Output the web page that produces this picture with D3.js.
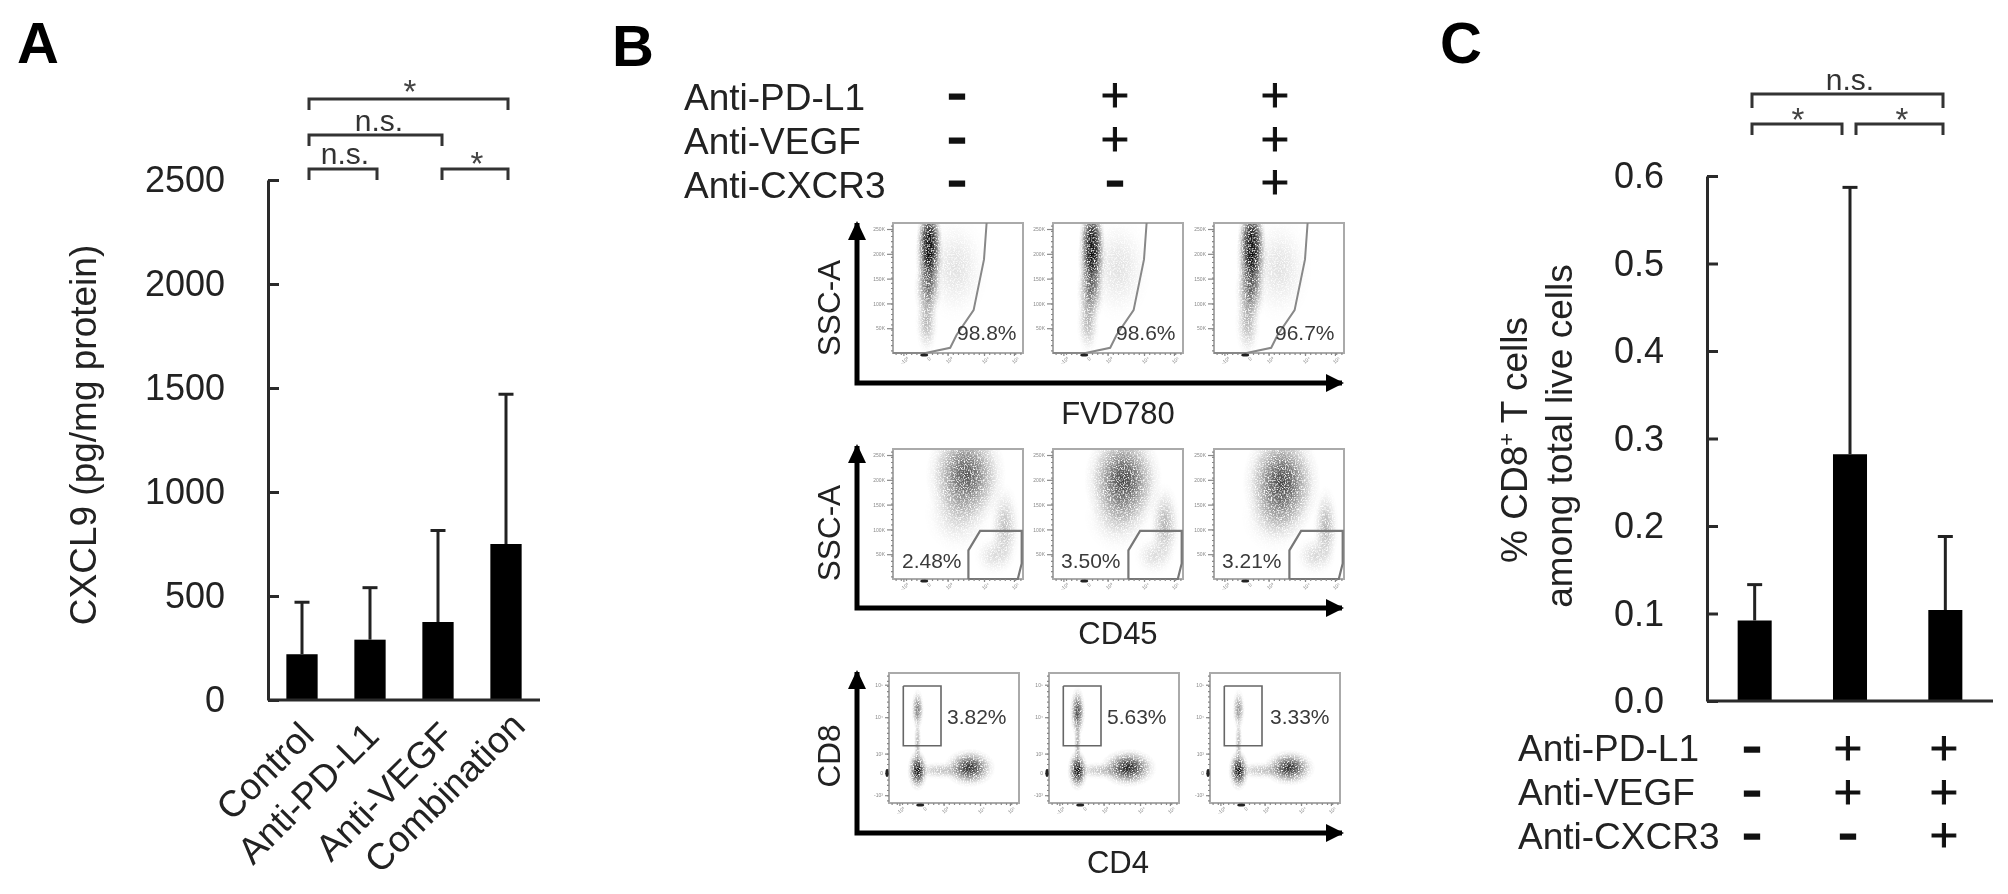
<!DOCTYPE html>
<html>
<head>
<meta charset="utf-8">
<script src="https://cdn.jsdelivr.net/npm/d3@7"></script>
<style>
  body { margin: 0; background: #fff; }
  svg { display: block; filter: blur(0.6px); }
  text { font-family: "Liberation Sans", Arial, sans-serif; fill: #222; }
</style>
</head>
<body>
<div id="chart"></div>
<script>
// panel A
const groupsA = ["Control", "Anti-PD-L1", "Anti-VEGF", "Combination"];
const valuesA = [220, 290, 375, 750];
const errorTopsA = [470, 540, 815, 1470];
const ticksA = [0, 500, 1000, 1500, 2000, 2500];

// panel C
const groupsC = ["none", "PD-L1+VEGF", "PD-L1+VEGF+CXCR3"];
const valuesC = [0.092, 0.282, 0.104];
const errorTopsC = [0.133, 0.587, 0.188];
const ticksC = [0, 0.1, 0.2, 0.3, 0.4, 0.5, 0.6];

// treatment table, shared by B and C
const treatments = ["Anti-PD-L1", "Anti-VEGF", "Anti-CXCR3"];
const signs = [["–", "+", "+"], ["–", "+", "+"], ["–", "–", "+"]];

// panel B, flow plots. clouds are [x, y, spreadX, spreadY, darkness] in % of each plot axis
const percentsFvd = ["98.8%", "98.6%", "96.7%"];
const percentsCd45 = ["2.48%", "3.50%", "3.21%"];
const percentsCd8 = ["3.82%", "5.63%", "3.33%"];

const cloudsFvd = [
  [[28, 76, 11, 34, 1], [28, 90, 10, 24, .8], [27, 50, 11, 26, .55], [26, 24, 9, 26, .3], [48, 65, 26, 42, .12]],
  [[30, 74, 11, 34, 1], [30, 90, 10, 24, .8], [29, 48, 11, 26, .55], [27, 24, 9, 26, .3], [50, 65, 26, 42, .12]],
  [[29, 74, 12, 36, 1], [29, 90, 11, 24, .8], [28, 48, 12, 26, .55], [26, 24, 10, 28, .3], [50, 65, 26, 42, .12]]
];
const cloudsCd45 = [
  [[56, 80, 31, 42, .68], [50, 50, 26, 30, .16], [86, 40, 12, 34, .25], [78, 18, 16, 16, .14]],
  [[54, 76, 30, 42, .75], [50, 48, 26, 28, .16], [86, 42, 12, 32, .3], [78, 18, 16, 16, .14]],
  [[52, 74, 30, 44, .75], [47, 48, 26, 28, .16], [86, 40, 10, 32, .3], [78, 18, 16, 16, .16]]
];
const cloudsCd8 = [
  [[22, 25, 8, 16, 1], [62, 27, 20, 15, .85], [40, 25, 24, 7, .25], [22, 72, 5, 16, .55], [22, 46, 3, 22, .3]],
  [[22, 25, 8, 16, 1], [61, 27, 22, 15, .9], [40, 25, 24, 7, .25], [22, 70, 6, 20, .75], [22, 46, 3, 22, .35]],
  [[22, 25, 8, 16, 1], [61, 27, 20, 14, .85], [40, 25, 24, 7, .25], [22, 72, 5, 16, .45], [22, 46, 3, 22, .3]]
];

const gateFvd = [[72, 100], [70, 72], [62, 33], [49, 14], [44, 4], [25, 0], [0, 0]];
const gateCd45 = [[58, 0], [58, 22], [67, 37], [99, 37], [99, 12], [96, 0], [58, 0]];
const gateCd8 = [[11, 90], [40, 90], [40, 44], [11, 44], [11, 90]];

const scatterTicks = [50, 100, 150, 200, 250];
const scatterLabels = ["50K", "100K", "150K", "200K", "250K"];
const logTicks = [8, 25, 42, 70, 93];
const logLabels = ["-10³", "0", "10³", "10⁴", "10⁵"];
const logTicksY = [6, 23, 38, 66, 91];

const width = 2008, height = 894;
const svg = d3.select("#chart").append("svg").attr("width", width).attr("height", height);
const defs = svg.append("defs");

// soft round blob, grain filter breaks it into specks like the flow events
const blob = defs.append("radialGradient").attr("id", "blob");
[[0, 1], [.3, .72], [.55, .36], [.8, .08], [1, 0]].forEach(s => {
  blob.append("stop").attr("offset", s[0]).attr("stop-color", "#000").attr("stop-opacity", s[1]);
});
const grain = defs.append("filter").attr("id", "grain")
  .attr("x", "-5%").attr("y", "-5%").attr("width", "110%").attr("height", "110%");
grain.append("feTurbulence").attr("type", "fractalNoise").attr("baseFrequency", 0.7)
  .attr("numOctaves", 2).attr("seed", 4).attr("result", "noise");
grain.append("feColorMatrix").attr("in", "noise").attr("type", "matrix")
  .attr("values", "0 0 0 0 0  0 0 0 0 0  0 0 0 0 0  3.2 0 0 0 -0.75").attr("result", "speck");
grain.append("feComposite").attr("in", "SourceGraphic").attr("in2", "speck").attr("operator", "in");
grain.append("feGaussianBlur").attr("stdDeviation", 0.45);

const label = (x, y, txt, size, opts = {}) => {
  const t = svg.append("text").attr("x", x).attr("y", y).attr("font-size", size).text(txt);
  if (opts.anchor) t.attr("text-anchor", opts.anchor);
  if (opts.weight) t.attr("font-weight", opts.weight);
  if (opts.fill) t.style("fill", opts.fill);
  if (opts.rotate) t.attr("transform", `rotate(${opts.rotate},${x},${y})`);
  return t;
};

const styleAxis = (g) => {
  g.selectAll(".domain").attr("stroke", "#2a2a2a").attr("stroke-width", 3);
  g.selectAll(".tick line").attr("stroke", "#2a2a2a").attr("stroke-width", 3);
  g.selectAll("text").attr("font-size", 36).attr("font-family", null).attr("fill", null);
};

const barChart = (cats, values, tops, ticks, fmt, left, right, top, bottom, inner, outer) => {
  const x = d3.scaleBand().domain(cats).range([left, right]).paddingInner(inner).paddingOuter(outer);
  const y = d3.scaleLinear().domain([ticks[0], ticks[ticks.length - 1]]).range([bottom, top]);

  svg.selectAll(null).data(cats).enter().append("rect")
    .attr("x", d => x(d)).attr("width", x.bandwidth())
    .attr("y", (d, i) => y(values[i])).attr("height", (d, i) => bottom - y(values[i]))
    .attr("fill", "#000");

  const err = svg.selectAll(null).data(cats).enter().append("g")
    .attr("transform", d => `translate(${x(d) + x.bandwidth() / 2},0)`);
  err.append("line").attr("y1", (d, i) => y(values[i])).attr("y2", (d, i) => y(tops[i]))
    .attr("stroke", "#222").attr("stroke-width", 3);
  err.append("line").attr("x1", -7.5).attr("x2", 7.5)
    .attr("y1", (d, i) => y(tops[i])).attr("y2", (d, i) => y(tops[i]))
    .attr("stroke", "#222").attr("stroke-width", 3);

  svg.append("g").attr("transform", `translate(${left},0)`)
    .call(d3.axisLeft(y).tickValues(ticks).tickFormat(fmt).tickSize(-11).tickSizeOuter(0).tickPadding(43))
    .call(styleAxis);

  return { x, y };
};

const bracket = (x1, x2, y, drop, txt, tx, ty) => {
  svg.append("path").attr("d", d3.line()([[x1, y + drop], [x1, y], [x2, y], [x2, y + drop]]))
    .attr("fill", "none").attr("stroke", "#333").attr("stroke-width", 3);
  if (txt === "*") label(tx, ty, txt, 33, { anchor: "middle", fill: "#444" });
  else label(tx, ty, txt, 30, { anchor: "middle", fill: "#333" });
};

const signTable = (labelX, colXs, rowYs, baselines) => {
  treatments.forEach((t, r) => {
    label(labelX, baselines[r], t, 37);
    signs[r].forEach((s, c) => {
      const plus = s === "+";
      label(colXs[c], rowYs[r] + (plus ? 12 : 12), s, 38, { anchor: "middle", weight: plus ? null : "bold", fill: "#111" })
        .style("font-family", "'DejaVu Sans'")
        .attr("stroke", "#111").attr("stroke-width", plus ? 1 : 1.4);
    });
  });
};

// --- panel A
label(17, 63, "A", 58, { weight: "bold", fill: "#000" });
const a = barChart(groupsA, valuesA, errorTopsA, ticksA, d3.format("d"), 268, 540, 180, 700, .54, .27);
svg.append("line").attr("x1", 268).attr("x2", 540).attr("y1", 700).attr("y2", 700)
  .attr("stroke", "#2a2a2a").attr("stroke-width", 3);
const labelNudgeA = [[14, 0], [11, 0], [18, 0], [21, -10]];
groupsA.forEach((g, i) => {
  const x = a.x(g) + a.x.bandwidth() / 2 + labelNudgeA[i][0];
  label(x, 738 + labelNudgeA[i][1], g, 37, { anchor: "end", rotate: -45 });
});
label(96, 435, "CXCL9 (pg/mg protein)", 37, { anchor: "middle", rotate: -90 });

bracket(309, 508, 99, 11, "*", 410, 103);
bracket(309, 442, 135, 11, "n.s.", 379, 131);
bracket(309, 377, 169, 11, "n.s.", 345, 164);
bracket(442, 508, 169, 11, "*", 477, 175);

// --- panel B
label(612, 66, "B", 58, { weight: "bold", fill: "#000" });
signTable(684, [957, 1115, 1275], [95, 139, 182], [110, 154, 198]);

const plotSize = 130;
const xPlot = d3.scaleLinear().domain([0, 100]).range([0, plotSize]);
const yPlot = d3.scaleLinear().domain([0, 100]).range([plotSize, 0]);
const yScatter = d3.scaleLinear().domain([0, 262.144]).range([plotSize, 0]);
const gateLine = d3.line().x(d => xPlot(d[0])).y(d => yPlot(d[1]));

const tinyAxis = (g, axis, rot) => {
  g.call(axis);
  g.select(".domain").attr("stroke", "none");
  g.selectAll(".tick line").attr("stroke", "#888").attr("stroke-width", 1.2);
  const txt = g.selectAll("text").attr("font-size", 5).attr("font-family", null).attr("fill", null)
    .style("fill", "#888");
  if (rot) txt.attr("transform", "rotate(-40)").attr("text-anchor", "end").attr("dy", "0.6em");
};

const flowPlot = (left, top, clouds, gate, gateColor, gateWidth, pct, pctX, pctY, kind, id) => {
  const g = svg.append("g").attr("transform", `translate(${left},${top})`);
  const clip = `clip${id}`;
  defs.append("clipPath").attr("id", clip).append("rect").attr("width", plotSize).attr("height", plotSize);

  g.append("g").attr("clip-path", `url(#${clip})`).append("g").attr("filter", "url(#grain)")
    .selectAll("ellipse").data(clouds).enter().append("ellipse")
    .attr("cx", d => xPlot(d[0])).attr("cy", d => yPlot(d[1]))
    .attr("rx", d => xPlot(d[2])).attr("ry", d => xPlot(d[3]))
    .attr("fill", "url(#blob)").attr("opacity", d => d[4]);

  g.append("rect").attr("width", plotSize).attr("height", plotSize)
    .attr("fill", "none").attr("stroke", "#aaa").attr("stroke-width", 2);
  g.append("path").attr("d", gateLine(gate)).attr("fill", "none")
    .attr("stroke", gateColor).attr("stroke-width", gateWidth);

  const minor = d3.range(2, 100, 4);
  g.append("g").attr("transform", `translate(0,${plotSize})`)
    .call(gg => tinyAxis(gg, d3.axisBottom(xPlot).tickValues(minor).tickFormat("").tickSize(2).tickSizeOuter(0)));
  g.append("g").call(gg => tinyAxis(gg, d3.axisLeft(yPlot).tickValues(minor).tickFormat("").tickSize(2).tickSizeOuter(0)));

  g.append("g").attr("transform", `translate(0,${plotSize})`)
    .call(gg => tinyAxis(gg, d3.axisBottom(xPlot).tickValues(logTicks).tickFormat((d, i) => logLabels[i])
      .tickSize(3).tickPadding(2).tickSizeOuter(0), true));
  if (kind === "log") {
    g.append("g").call(gg => tinyAxis(gg, d3.axisLeft(yPlot).tickValues(logTicksY).tickFormat((d, i) => logLabels[i])
      .tickSize(4).tickPadding(2).tickSizeOuter(0)));
  } else {
    g.append("g").call(gg => tinyAxis(gg, d3.axisLeft(yScatter).tickValues(scatterTicks).tickFormat((d, i) => scatterLabels[i])
      .tickSize(6).tickPadding(2).tickSizeOuter(0)));
  }

  // events piled on the zero channel
  g.append("ellipse").attr("cx", xPlot(24)).attr("cy", plotSize + 2).attr("rx", 4).attr("ry", 1.6).attr("fill", "#222");
  if (kind === "log") g.append("ellipse").attr("cx", -2).attr("cy", yPlot(23)).attr("rx", 1.6).attr("ry", 4).attr("fill", "#222");

  g.append("text").attr("x", pctX).attr("y", pctY).attr("font-size", 21).style("fill", "#3a3a3a").text(pct);
};

const rowsB = [
  { top: 223, lefts: [893, 1053, 1214], clouds: cloudsFvd, gate: gateFvd, color: "#888", w: 2, pct: percentsFvd, px: [64, 63, 61], py: 117, kind: "scatter" },
  { top: 449, lefts: [893, 1053, 1214], clouds: cloudsCd45, gate: gateCd45, color: "#777", w: 2.2, pct: percentsCd45, px: [9, 8, 8], py: 119, kind: "scatter" },
  { top: 673, lefts: [889, 1049, 1210], clouds: cloudsCd8, gate: gateCd8, color: "#666", w: 1.6, pct: percentsCd8, px: [58, 58, 60], py: 51, kind: "log" }
];
rowsB.forEach((r, ri) => {
  r.lefts.forEach((l, ci) => {
    flowPlot(l, r.top, r.clouds[ci], r.gate, r.color, r.w, r.pct[ci], r.px[ci], r.py, r.kind, `${ri}${ci}`);
  });
});

const arrowHead = defs.append("marker").attr("id", "head").attr("viewBox", "0 0 18 18")
  .attr("refX", 16).attr("refY", 9).attr("markerWidth", 18).attr("markerHeight", 18)
  .attr("markerUnits", "userSpaceOnUse").attr("orient", "auto");
arrowHead.append("path").attr("d", "M0,0L18,9L0,18Z").attr("fill", "#000");

const axesB = [
  { tip: 221, corner: 383, name: "SSC-A", nameY: 308, xName: "FVD780", base: 424 },
  { tip: 444, corner: 608, name: "SSC-A", nameY: 533, xName: "CD45", base: 644 },
  { tip: 670, corner: 833, name: "CD8", nameY: 756, xName: "CD4", base: 873 }
];
axesB.forEach(d => {
  svg.append("path").attr("d", d3.line()([[857, d.tip + 2], [857, d.corner], [1342, d.corner]]))
    .attr("fill", "none").attr("stroke", "#000").attr("stroke-width", 5)
    .attr("marker-end", "url(#head)");
  svg.append("path").attr("d", `M857,${d.tip}l-9,19h18Z`).attr("fill", "#000");
  label(840, d.nameY, d.name, 31.5, { anchor: "middle", rotate: -90 });
  label(1118, d.base, d.xName, 31, { anchor: "middle" });
});

// --- panel C
label(1440, 63, "C", 58, { weight: "bold", fill: "#000" });
barChart(groupsC, valuesC, errorTopsC, ticksC, d3.format(".1f"), 1707, 1993, 176, 701, .643, .3215);
svg.append("line").attr("x1", 1707).attr("x2", 1993).attr("y1", 701).attr("y2", 701)
  .attr("stroke", "#2a2a2a").attr("stroke-width", 3);

const titleC = label(1527, 440, "% CD8", 37, { anchor: "middle", rotate: -90 });
titleC.append("tspan").attr("font-size", 22).attr("dy", -13).text("+");
titleC.append("tspan").attr("dy", 13).text(" T cells");
label(1572, 436, "among total live cells", 37, { anchor: "middle", rotate: -90 });

bracket(1752, 1943, 94, 14, "n.s.", 1850, 90);
bracket(1752, 1842, 124, 11, "*", 1798, 131);
bracket(1856, 1943, 124, 11, "*", 1902, 131);

signTable(1518, [1752, 1848, 1944], [748, 792, 835], [761, 805, 849]);
</script>
</body>
</html>
